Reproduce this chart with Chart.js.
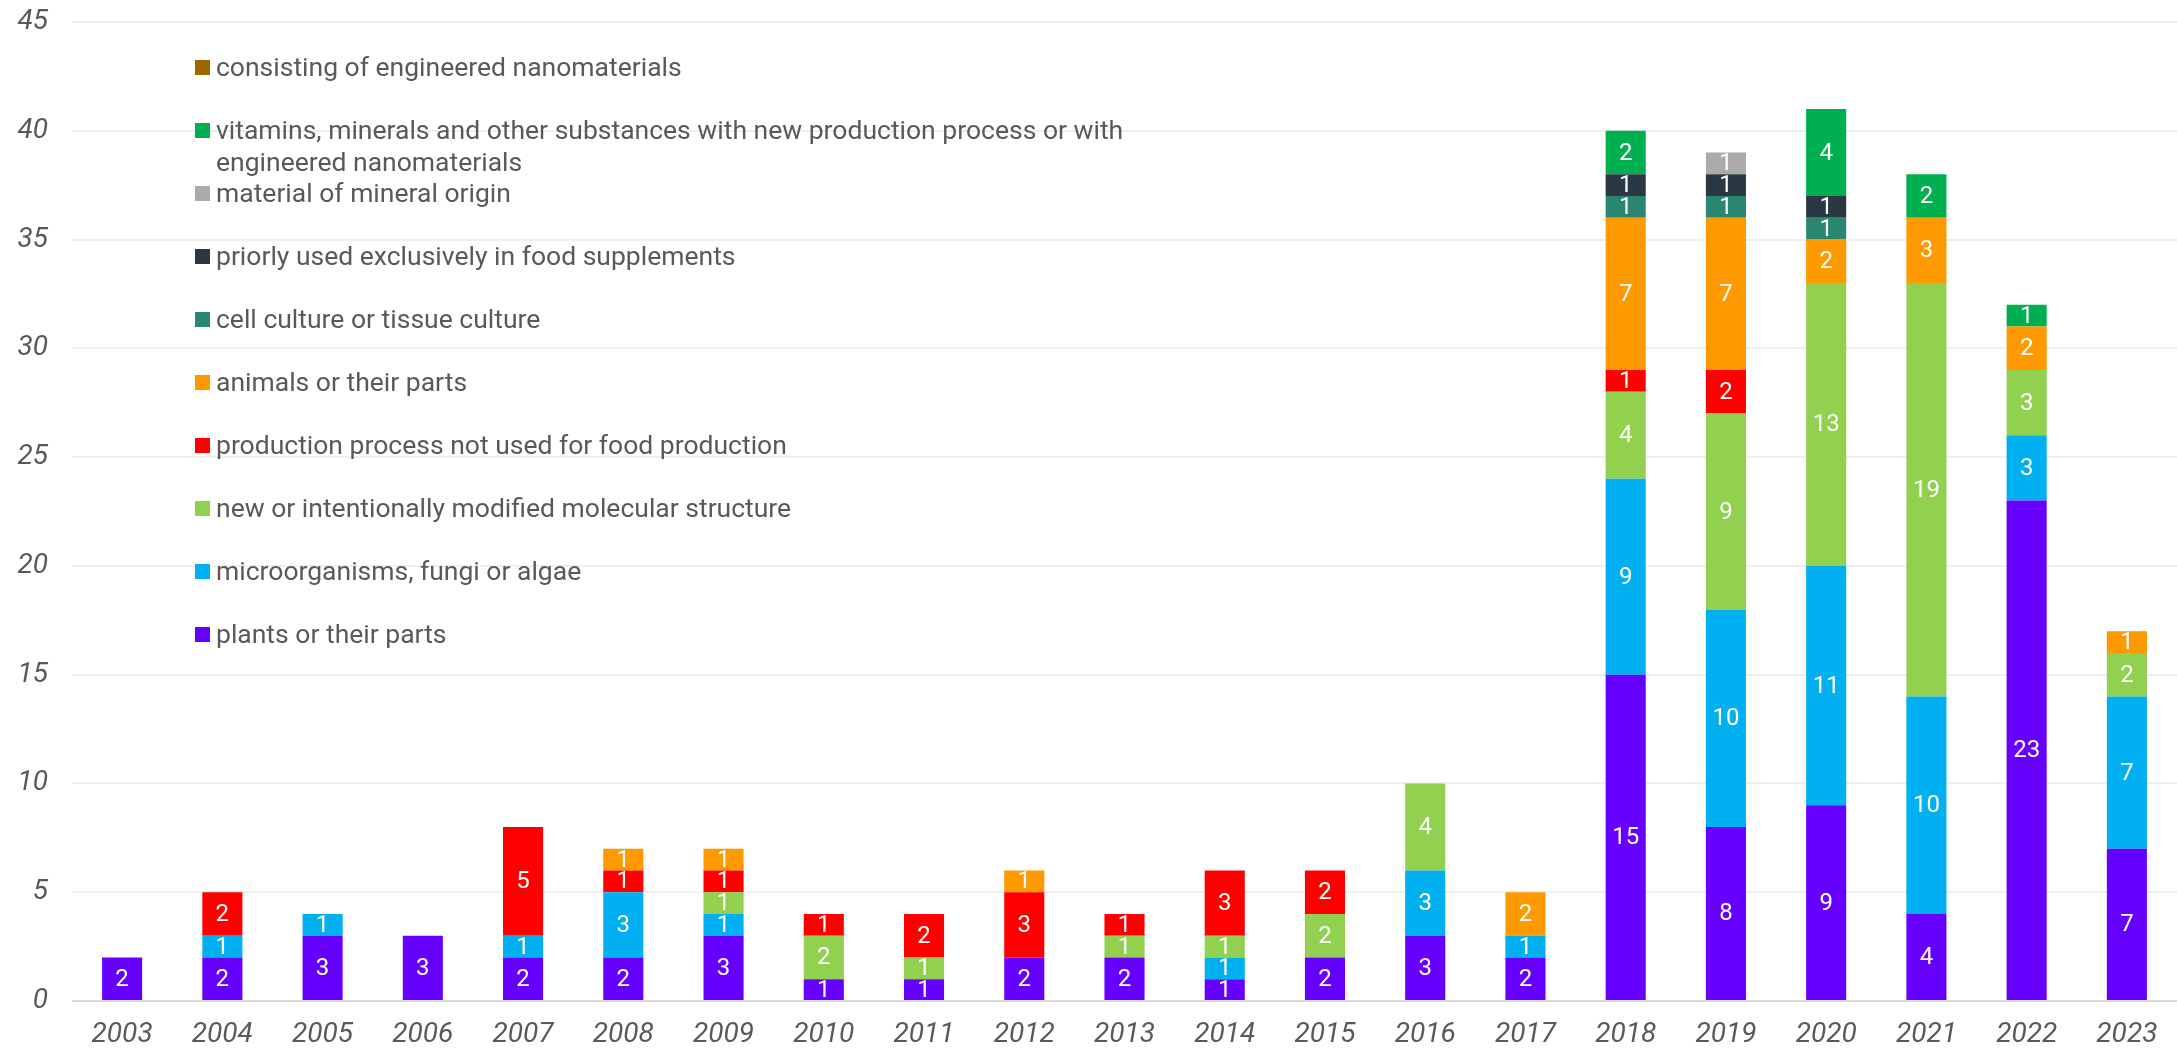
<!DOCTYPE html>
<html>
<head>
<meta charset="utf-8">
<script src="https://cdn.jsdelivr.net/npm/chart.js@4/dist/chart.umd.min.js"></script>
<style>
  html, body { margin: 0; padding: 0; background: #fff; }
  #wrap { position: relative; width: 2177px; height: 1051px; }
  #legend { position: absolute; left: 195px; top: 51px; font-family: Roboto, sans-serif; font-size: 26.5px; color: #595959; }
  #legend .item { position: relative; height: 63px; }
  #legend .box { position: absolute; left: 0; top: 9px; width: 15px; height: 15px; }
  #legend .txt { position: absolute; left: 21px; top: 0; width: 935px; line-height: 32px; }
</style>
</head>
<body>
<div id="wrap">
  <canvas id="chart" width="2177" height="1051"></canvas>
  <div id="legend"></div>
</div>
<script>
  // years
  const years = ["2003", "2004", "2005", "2006", "2007", "2008", "2009", "2010", "2011", "2012", "2013",
    "2014", "2015", "2016", "2017", "2018", "2019", "2020", "2021", "2022", "2023"];

  // series, bottom to top
  const plants      = [2, 2, 3, 3, 2, 2, 3, 1, 1, 2, 2, 1, 2, 3, 2, 15, 8, 9, 4, 23, 7];
  const microorg    = [0, 1, 1, 0, 1, 3, 1, 0, 0, 0, 0, 1, 0, 3, 1, 9, 10, 11, 10, 3, 7];
  const newMolecule = [0, 0, 0, 0, 0, 0, 1, 2, 1, 0, 1, 1, 2, 4, 0, 4, 9, 13, 19, 3, 2];
  const production  = [0, 2, 0, 0, 5, 1, 1, 1, 2, 3, 1, 3, 2, 0, 0, 1, 2, 0, 0, 0, 0];
  const animals     = [0, 0, 0, 0, 0, 1, 1, 0, 0, 1, 0, 0, 0, 0, 2, 7, 7, 2, 3, 2, 1];
  const cellCulture = [0, 0, 0, 0, 0, 0, 0, 0, 0, 0, 0, 0, 0, 0, 0, 1, 1, 1, 0, 0, 0];
  const priorlyUsed = [0, 0, 0, 0, 0, 0, 0, 0, 0, 0, 0, 0, 0, 0, 0, 1, 1, 1, 0, 0, 0];
  const mineral     = [0, 0, 0, 0, 0, 0, 0, 0, 0, 0, 0, 0, 0, 0, 0, 0, 1, 0, 0, 0, 0];
  const vitamins    = [0, 0, 0, 0, 0, 0, 0, 0, 0, 0, 0, 0, 0, 0, 0, 2, 0, 4, 2, 1, 0];
  const nanomat     = [0, 0, 0, 0, 0, 0, 0, 0, 0, 0, 0, 0, 0, 0, 0, 0, 0, 0, 0, 0, 0];

  const series = [
    { label: "plants or their parts", data: plants, color: "#6600ff" },
    { label: "microorganisms, fungi or algae", data: microorg, color: "#00b0f0" },
    { label: "new or intentionally modified molecular structure", data: newMolecule, color: "#92d050" },
    { label: "production process not used for food production", data: production, color: "#ff0000" },
    { label: "animals or their parts", data: animals, color: "#ff9900" },
    { label: "cell culture or tissue culture", data: cellCulture, color: "#2a866e" },
    { label: "priorly used exclusively in food supplements", data: priorlyUsed, color: "#2a3843" },
    { label: "material of mineral origin", data: mineral, color: "#aeaaaa" },
    { label: "vitamins, minerals and other substances with new production process or with engineered nanomaterials", data: vitamins, color: "#00b050" },
    { label: "consisting of engineered nanomaterials", data: nanomat, color: "#9a6700" }
  ];

  // white value labels in the middle of each segment
  const valueLabels = {
    id: "valueLabels",
    afterDatasetsDraw(chart) {
      const ctx = chart.ctx;
      ctx.save();
      ctx.font = "24px Roboto";
      ctx.fillStyle = "#ffffff";
      ctx.textAlign = "center";
      ctx.textBaseline = "middle";
      chart.data.datasets.forEach((ds, i) => {
        chart.getDatasetMeta(i).data.forEach((el, j) => {
          const v = ds.data[j];
          if (!v) return;
          ctx.fillText(String(v), el.x, (el.y + el.base) / 2 + 1);
        });
      });
      ctx.restore();
    }
  };

  const chart = new Chart(document.getElementById("chart"), {
    type: "bar",
    data: {
      labels: years,
      datasets: series.map(s => ({
        label: s.label,
        data: s.data,
        backgroundColor: s.color,
        borderWidth: 0,
        categoryPercentage: 1,
        barPercentage: 0.4
      }))
    },
    options: {
      responsive: false,
      animation: false,
      layout: { padding: { top: 22, right: 0, bottom: 0, left: 0 } },
      plugins: { legend: { display: false }, tooltip: { enabled: false } },
      scales: {
        x: {
          stacked: true,
          afterFit: scale => { scale.height = 50; },
          grid: { display: false, drawTicks: false },
          border: { display: false },
          ticks: { color: "#595959", padding: 17, font: { family: "Roboto", size: 28, style: "italic" } }
        },
        y: {
          stacked: true,
          min: 0,
          max: 45,
          afterFit: scale => {
            scale.width = 72;
            scale.paddingTop = 0;
            scale.paddingBottom = 0;
          },
          border: { display: false },
          grid: {
            drawTicks: false,
            lineWidth: 2,
            color: c => (c.tick && c.tick.value === 0 ? "#d9d9d9" : "#efefef")
          },
          ticks: { stepSize: 5, color: "#595959", padding: 24, font: { family: "Roboto", size: 28, style: "italic" } }
        }
      }
    },
    plugins: [valueLabels]
  });

  // legend, top entry = last series
  const legend = document.getElementById("legend");
  series.slice().reverse().forEach(s => {
    const item = document.createElement("div");
    item.className = "item";
    item.innerHTML = '<div class="box" style="background:' + s.color + '"></div><div class="txt">' + s.label + "</div>";
    legend.appendChild(item);
  });
</script>
</body>
</html>
